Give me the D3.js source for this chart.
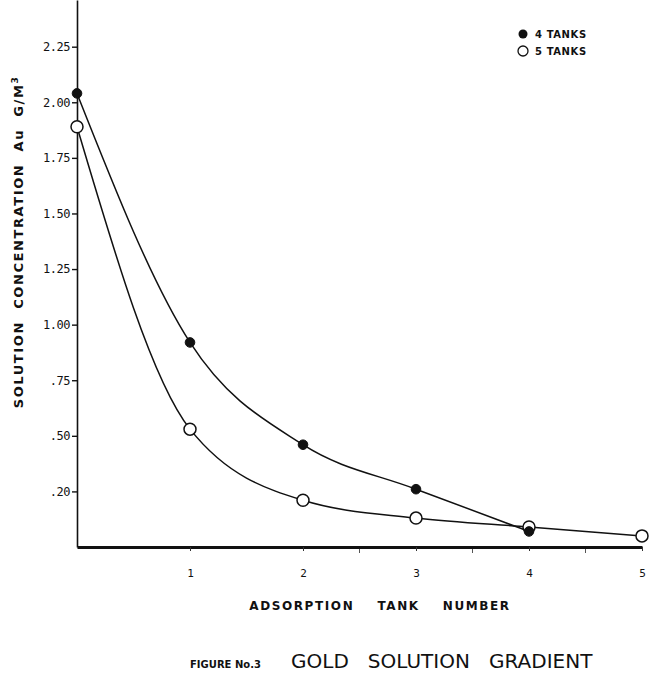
<!DOCTYPE html>
<html><head><meta charset="utf-8">
<script src="https://cdn.jsdelivr.net/npm/d3@7"></script>
<style>
body{margin:0;background:#fff;}
svg{display:block;}
text{font-family:"DejaVu Sans",sans-serif;fill:#111;}
</style></head>
<body>
<svg id="c" width="654" height="678"></svg>
<script>
const tanks = [0, 1, 2, 3, 4, 5];
const fourTanks = [2.04, 0.92, 0.46, 0.26, 0.07];
const fiveTanks = [1.89, 0.53, 0.21, 0.13, 0.09, 0.05];
const yTickValues = [2.25, 2.00, 1.75, 1.50, 1.25, 1.00, 0.75, 0.50, 0.25];
const yTickLabels = ["2.25", "2.00", "1.75", "1.50", "1.25", "1.00", ".75", ".50", ".20"];
const xTickValues = [1, 2, 3, 4, 5];
const xMinorTicks = [2.5, 3.5, 4.5];
const legendLabels = ["4 TANKS", "5 TANKS"];

const svg = d3.select("#c");
const x = d3.scaleLinear().domain([0, 5]).range([77, 642]);
const y = d3.scaleLinear().domain([0, 2.46]).range([547, 0]);

// y axis
const yAxis = d3.axisLeft(y).tickValues(yTickValues)
  .tickFormat((d, i) => yTickLabels[i]).tickSize(5).tickSizeOuter(0);
const gy = svg.append("g").attr("transform", `translate(${x(0)},0)`).call(yAxis);
gy.select(".domain").attr("stroke", "#111").attr("stroke-width", 1.6);
gy.selectAll(".tick line").attr("stroke", "#111").attr("stroke-width", 1.4);
gy.selectAll(".tick text").attr("font-size", 12).attr("x", -7).attr("fill", "#333")
  .attr("letter-spacing", -0.5)
  .style("font-family", "'DejaVu Sans Mono', monospace");

// x axis
const xAxis = d3.axisBottom(x).tickValues(xTickValues).tickFormat(d3.format("d"))
  .tickSize(4).tickSizeOuter(0).tickPadding(18);
const gx = svg.append("g").attr("transform", `translate(0,${y(0)})`).call(xAxis);
gx.select(".domain").attr("stroke", "#111").attr("stroke-width", 3);
gx.selectAll(".tick line").attr("stroke", "#333").attr("stroke-width", 1);
gx.selectAll(".tick text").attr("font-size", 11).attr("fill", "#222")
  .style("font-family", "'DejaVu Sans Mono', monospace");
svg.append("g").selectAll("line").data(xMinorTicks).join("line")
  .attr("x1", d => x(d)).attr("x2", d => x(d))
  .attr("y1", y(0) + 2).attr("y2", y(0) + 6)
  .attr("stroke", "#555").attr("stroke-width", 1);

// lines
const line = d3.line().x((d, i) => x(tanks[i])).y(d => y(d)).curve(d3.curveMonotoneX);
svg.append("path").datum(fiveTanks).attr("d", line)
  .attr("fill", "none").attr("stroke", "#111").attr("stroke-width", 1.5);
svg.append("path").datum(fourTanks).attr("d", line)
  .attr("fill", "none").attr("stroke", "#111").attr("stroke-width", 1.5);

// markers
svg.append("g").selectAll("circle").data(fiveTanks).join("circle")
  .attr("cx", (d, i) => x(tanks[i])).attr("cy", d => y(d)).attr("r", 6)
  .attr("fill", "#fff").attr("stroke", "#111").attr("stroke-width", 1.5);
svg.append("g").selectAll("circle").data(fourTanks).join("circle")
  .attr("cx", (d, i) => x(tanks[i])).attr("cy", d => y(d)).attr("r", 4.8)
  .attr("fill", "#111").attr("stroke", "#111").attr("stroke-width", 1);

// legend
const lg = svg.append("g");
lg.append("circle").attr("cx", 523).attr("cy", 34).attr("r", 4.5).attr("fill", "#111");
lg.append("circle").attr("cx", 523).attr("cy", 51).attr("r", 5).attr("fill", "#fff")
  .attr("stroke", "#111").attr("stroke-width", 1.3);
lg.selectAll("text").data(legendLabels).join("text")
  .attr("x", 535).attr("y", (d, i) => 38 + i * 17)
  .attr("font-size", 10).attr("font-weight", "bold").attr("letter-spacing", 0.6)
  .text(d => d);

// axis titles
svg.append("text").attr("transform", "translate(23,242) rotate(-90)")
  .attr("text-anchor", "middle").attr("font-size", 13).attr("font-weight", "bold")
  .attr("letter-spacing", 1.6).attr("xml:space", "preserve")
  .text("SOLUTION  CONCENTRATION  Au  G/M")
  .append("tspan").attr("font-size", 9).attr("dy", -5).text("3");

svg.append("text").attr("x", 380).attr("y", 610).attr("text-anchor", "middle")
  .attr("font-size", 12).attr("font-weight", "bold").attr("letter-spacing", 1.6)
  .attr("xml:space", "preserve")
  .text("ADSORPTION    TANK    NUMBER");

svg.append("text").attr("x", 190).attr("y", 668)
  .attr("font-size", 10).attr("font-weight", "bold").text("FIGURE No.3");
svg.append("text").attr("x", 291).attr("y", 668)
  .attr("font-size", 20).attr("letter-spacing", 0).attr("xml:space", "preserve")
  .text("GOLD   SOLUTION   GRADIENT");
</script>
</body></html>
